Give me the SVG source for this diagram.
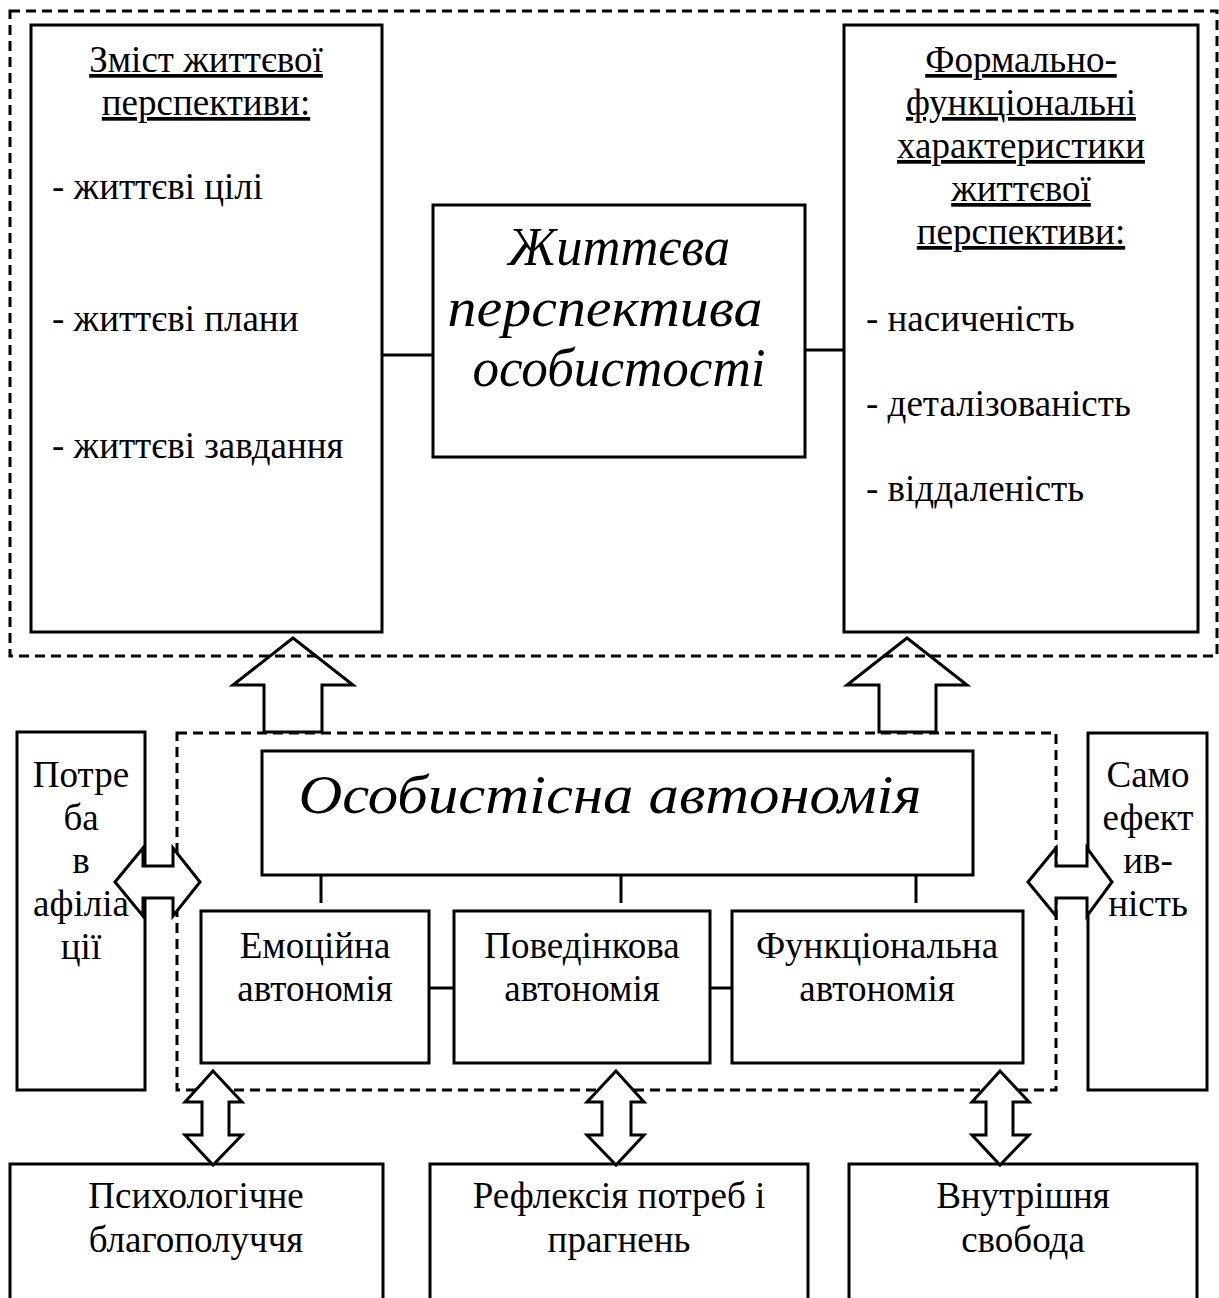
<svg xmlns="http://www.w3.org/2000/svg" width="1219" height="1298" viewBox="0 0 1219 1298">
<style>
.box{fill:#fff;stroke:#000;stroke-width:3}
.dash{fill:none;stroke:#000;stroke-width:3;stroke-dasharray:10 6}
.ln{stroke:#000;stroke-width:3;fill:none}
.arr{fill:#fff;stroke:#000;stroke-width:3;stroke-linejoin:miter}
text{font-family:"Liberation Serif","Times New Roman",serif;font-size:37px;fill:#000}
.c{text-anchor:middle}
.it{font-style:italic;font-size:54px}
.u{text-decoration:underline}
</style>
<rect width="1219" height="1298" fill="#fff"/>
<g id="group-autonomy"><rect class="dash" x="177" y="733" width="879" height="357"/></g>

<g id="node-content">
<rect class="box" x="31" y="25" width="351" height="607"/>
<text class="c u" x="206" y="72">Зміст життєвої</text>
<text class="c u" x="206" y="115">перспективи:</text>
<text x="52" y="199">- життєві цілі</text>
<text x="52" y="331">- життєві плани</text>
<text x="52" y="458">- життєві завдання</text>
</g>

<g id="node-perspective">
<rect class="box" x="433" y="205" width="372" height="252"/>
<text class="c it" x="619" y="265" textLength="222" lengthAdjust="spacingAndGlyphs">Життєва</text>
<text class="c it" x="605" y="326" textLength="315" lengthAdjust="spacingAndGlyphs">перспектива</text>
<text class="c it" x="619" y="386" textLength="293" lengthAdjust="spacingAndGlyphs">особистості</text>
</g>

<g id="node-formal">
<rect class="box" x="844" y="25" width="354" height="607"/>
<text class="c u" x="1021" y="72">Формально-</text>
<text class="c u" x="1021" y="115">функціональні</text>
<text class="c u" x="1021" y="158">характеристики</text>
<text class="c u" x="1021" y="201">життєвої</text>
<text class="c u" x="1021" y="244">перспективи:</text>
<text x="866" y="331">- насиченість</text>
<text x="866" y="416">- деталізованість</text>
<text x="866" y="501">- віддаленість</text>
</g>

<g id="node-affiliation">
<rect class="box" x="17" y="732" width="128" height="358"/>
<text class="c" x="81" y="787">Потре</text>
<text class="c" x="81" y="830">ба</text>
<text class="c" x="81" y="873">в</text>
<text class="c" x="81" y="916">афіліа</text>
<text class="c" x="81" y="959">ції</text>
</g>

<g id="node-selfefficacy">
<rect class="box" x="1088" y="733" width="119" height="357"/>
<text class="c" x="1148" y="787">Само</text>
<text class="c" x="1148" y="830">ефект</text>
<text class="c" x="1148" y="873">ив-</text>
<text class="c" x="1148" y="916">ність</text>
</g>

<g id="node-autonomy">
<rect class="box" x="262" y="751" width="711" height="124"/>
<text class="c it" x="610" y="813" textLength="623" lengthAdjust="spacingAndGlyphs">Особистісна автономія</text>
</g>

<g id="node-emotional">
<rect class="box" x="201" y="911" width="228" height="152"/>
<text class="c" x="315" y="958">Емоційна</text>
<text class="c" x="315" y="1001">автономія</text>
</g>
<g id="node-behavioral">
<rect class="box" x="454" y="911" width="256" height="152"/>
<text class="c" x="582" y="958">Поведінкова</text>
<text class="c" x="582" y="1001">автономія</text>
</g>
<g id="node-functional">
<rect class="box" x="732" y="911" width="291" height="152"/>
<text class="c" x="877" y="958">Функціональна</text>
<text class="c" x="877" y="1001">автономія</text>
</g>

<g id="node-wellbeing">
<rect class="box" x="10" y="1164" width="373" height="150"/>
<text class="c" x="196" y="1208">Психологічне</text>
<text class="c" x="196" y="1252">благополуччя</text>
</g>
<g id="node-reflection">
<rect class="box" x="430" y="1164" width="378" height="150"/>
<text class="c" x="619" y="1208">Рефлексія потреб і</text>
<text class="c" x="619" y="1252">прагнень</text>
</g>
<g id="node-freedom">
<rect class="box" x="849" y="1164" width="348" height="150"/>
<text class="c" x="1023" y="1208">Внутрішня</text>
<text class="c" x="1023" y="1252">свобода</text>
</g>

<g id="connectors">
<line class="ln" x1="382" y1="355" x2="433" y2="355"/>
<line class="ln" x1="805" y1="350" x2="844" y2="350"/>
<line class="ln" x1="321" y1="875" x2="321" y2="903"/>
<line class="ln" x1="621" y1="875" x2="621" y2="903"/>
<line class="ln" x1="916" y1="875" x2="916" y2="903"/>
<line class="ln" x1="429" y1="988" x2="454" y2="988"/>
<line class="ln" x1="710" y1="988" x2="732" y2="988"/>
<polygon class="arr" points="293,638 353,685 322,685 322,732 264,732 264,685 233,685"/>
<polygon class="arr" points="907,638 967,685 936,685 936,732 879,732 879,685 847,685"/>
<polygon class="arr" points="115,882 143,848 143,866 173,866 173,848 200,882 173,916 173,898 143,898 143,916"/>
<polygon class="arr" points="1028,882 1056,848 1056,866 1087,866 1087,848 1112,882 1087,916 1087,898 1056,898 1056,916"/>
<polygon class="arr" points="213,1071 242,1102 229,1102 229,1135 242,1135 213,1165 185,1135 202,1135 202,1102 185,1102"/>
<polygon class="arr" points="616,1071 644,1102 631,1102 631,1135 644,1135 616,1165 587,1135 602,1135 602,1102 587,1102"/>
<polygon class="arr" points="1000,1071 1029,1102 1013,1102 1013,1135 1029,1135 1000,1165 972,1135 986,1135 986,1102 972,1102"/>
</g>
<g id="group-top"><rect class="dash" x="10" y="11" width="1207" height="645"/></g>
</svg>
